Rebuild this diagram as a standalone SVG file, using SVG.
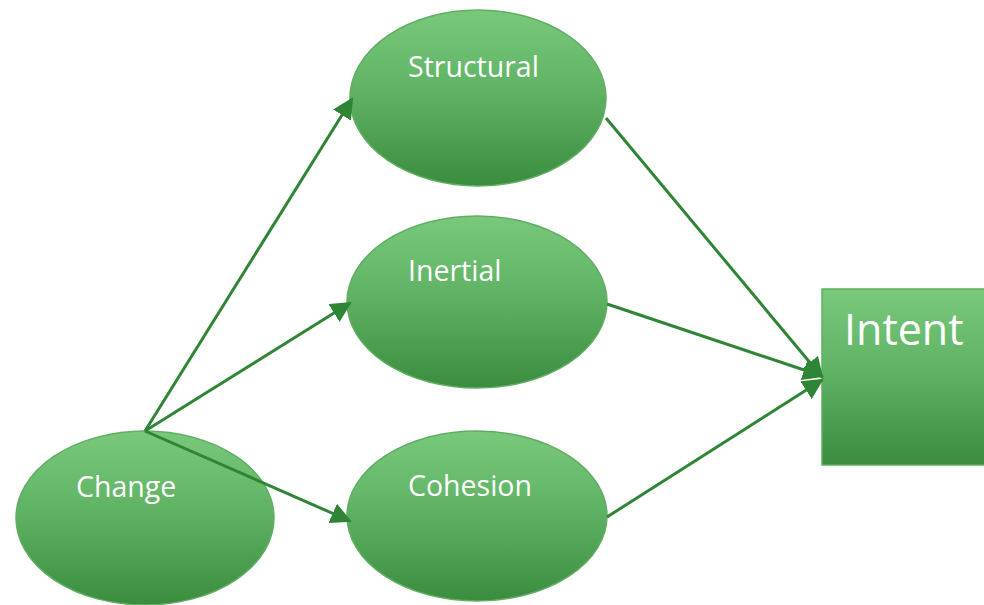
<svg xmlns="http://www.w3.org/2000/svg" width="984" height="605" viewBox="0 0 984 605">
<defs>
<linearGradient id="g" x1="0" y1="0" x2="0" y2="1">
<stop offset="0" stop-color="#79c97d"/>
<stop offset="0.5" stop-color="#5db062"/>
<stop offset="1" stop-color="#3a8d3e"/>
</linearGradient>
<marker id="ah" viewBox="0 0 10 10" refX="9" refY="5" markerWidth="7" markerHeight="7" markerUnits="strokeWidth" orient="auto">
<path d="M0,0 L10,5 L0,10 z" fill="#2f8536"/>
</marker>
<style>
.n{fill:url(#g);stroke:#5fae62;stroke-width:1.5}
.t{font-family:"Open Sans","Noto Sans",sans-serif;fill:#fff}
.c{stroke:#2f8536;stroke-width:3;fill:none;marker-end:url(#ah)}
</style>
</defs>
<rect width="984" height="605" fill="#fff"/>
<g id="structural"><ellipse class="n" cx="478" cy="98" rx="128" ry="88"/><text class="t" x="408" y="77" font-size="28.5">Structural</text></g>
<g id="inertial"><ellipse class="n" cx="477" cy="302" rx="130" ry="86"/><text class="t" x="408" y="281" font-size="28.5">Inertial</text></g>
<g id="cohesion"><ellipse class="n" cx="477" cy="516" rx="130" ry="85"/><text class="t" x="408" y="496" font-size="28.5">Cohesion</text></g>
<g id="change"><ellipse class="n" cx="145" cy="518" rx="129" ry="87"/><text class="t" x="76" y="497" font-size="28.5">Change</text></g>
<g id="intent"><rect class="n" x="822" y="289" width="170" height="176"/><text class="t" x="844" y="345" font-size="43">Intent</text></g>
<g id="connectors">
<line class="c" x1="145" y1="431" x2="352" y2="99"/>
<line class="c" x1="145" y1="431" x2="350" y2="303"/>
<line class="c" x1="145" y1="431" x2="350" y2="521"/>
<line class="c" x1="606" y1="118" x2="822" y2="377"/>
<line class="c" x1="607" y1="304" x2="822" y2="376"/>
<line class="c" x1="607" y1="517" x2="822" y2="380"/>
</g>
</svg>
